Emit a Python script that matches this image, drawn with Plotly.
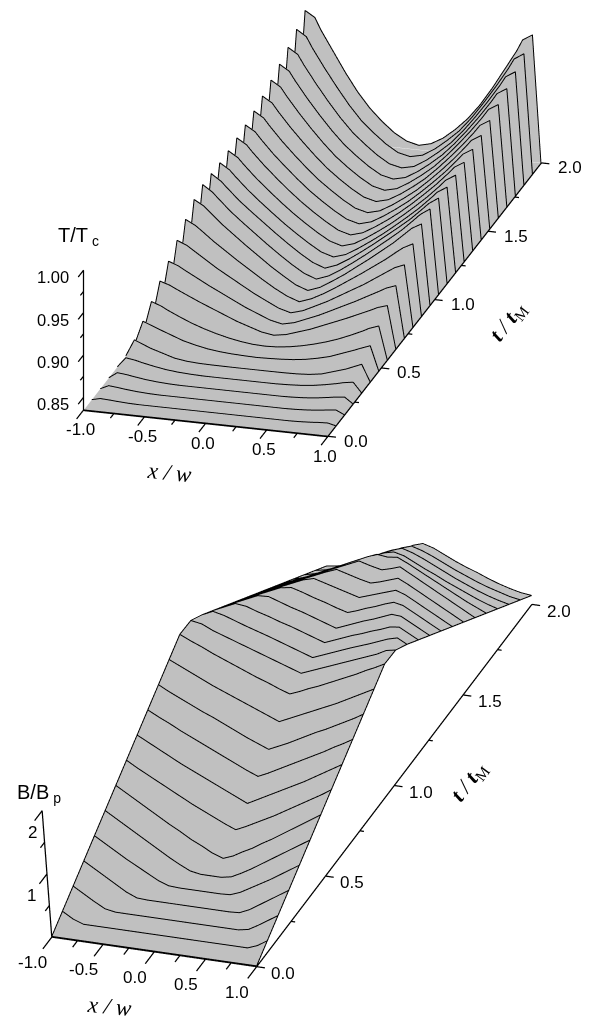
import numpy as np
import plotly.graph_objects as go

# ---------- data ----------
times = [round(0.08 * k, 2) for k in range(26)]
T_bath = 0.835
# half profile nodes (profiles are symmetric in x)
x_half_T = [0, .1, .2, .3, .4, .5, .6, .7, .8, .85, .93, 1]
# temperature rise above the bath, in thousandths of T/Tc
T_rise = [
 [0,0,0,0,0,0,0,0,0,0,0,0],
 [0,0,0,0,0,0,0,.4,1.2,1.8,2.4,0],
 [0,0,0,0,0,0,.4,1.2,2.6,3.5,4.7,0],
 [0,0,0,0,0,.4,1.2,2.6,4.7,5.9,7.1,0],
 [0,0,0,.1,.6,1.4,2.9,5.3,8.2,10,11.8,0],
 [0,0,.1,.2,.5,1.4,3.5,7.9,12.3,15.3,20,0],
 [.8,1.2,1.8,2.9,4.7,7.6,11.2,16.5,21.8,24.7,29,0],
 [1.2,1.8,3.6,6.3,9.8,14,19,25,31.5,35.3,39.4,0],
 [1.2,3.5,8.2,12.9,18.8,24.7,30.6,37,43.5,47,50.6,0],
 [1.5,4.7,10.6,16.5,23.5,30.6,37.6,45.3,52.9,57,61.2,0],
 [1.8,5.9,12.9,20,28.2,36.5,44.7,54.1,63.5,68.2,72.9,0],
 [2,7.1,14.7,23.5,32.9,42.3,52.3,62.3,73.5,78.8,84.7,0],
 [2.4,7.6,16.5,25.9,36.5,47,58.2,69.4,82.3,88.8,95.3,0],
 [2.9,8.2,17,27,37.6,48.8,60,71.7,85.3,92.3,100,0],
 [2.9,8.2,17,27,37.6,48.8,60,71.7,85.3,92.3,100,0],
 [3.2,7.6,16.2,25.9,36.2,47.5,59.2,71.5,85.4,92.8,100,0],
 [3.3,7.6,16,25.6,35.9,47.3,59.5,72.2,86.4,94.1,101.2,0],
 [3.4,7.5,15.9,25.5,36,47.7,60.4,73.7,88.4,96.5,103.5,0],
 [3.6,7.5,15.8,25.5,36,48.2,61.3,75.1,90.6,99,105.9,0],
 [3.9,7.6,15.9,25.8,36.5,49.2,62.9,77.5,93.6,102.4,109.4,0],
 [4.1,7.8,16.1,26.1,37.2,50.6,65.2,80.7,97.7,107.1,114.1,0],
 [4.5,8,16.5,26.7,38.2,52.3,67.9,84.7,102.8,113,120,0],
 [4.8,8.2,16.7,27.4,39.3,54.1,70.7,88.6,108,118.8,125.9,0],
 [5.1,8.3,17.1,28.2,40.6,56.2,74.1,93.4,114.1,125.7,132.9,0],
 [5.5,8.7,17.5,29,41.9,58.7,78.2,98.9,121.1,133.8,141.2,0],
 [5.9,9.4,17.6,29.4,43.5,61.2,82.4,105.9,129.4,143.5,150.6,0],
]
x_half_B = [0, .1, .2, .3, .4, .5, .6, .7, .8, .9, 1]
# x position of the central kink of each field profile
B_centre = [.02, .02, .02, .02, .02, .02, .03, .05, .06, .06, .06, .06, .06,
            .065, .07, .08, .085, .09, .095, .10, .10, .05, 0, -.03, -.05, -.05]
B_half = [
 [0,0,0,0,0,0,0,0,0,0,0],
 [.01,.01,.01,.01,.01,.01,.01,.01,.01,.07,.17],
 [.02,.02,.02,.02,.02,.02,.02,.05,.14,.24,.34],
 [.03,.03,.03,.03,.03,.04,.11,.21,.31,.41,.51],
 [.04,.04,.04,.05,.11,.2,.29,.38,.48,.58,.68],
 [.05,.05,.08,.16,.25,.35,.45,.55,.65,.75,.85],
 [.1,.16,.25,.33,.43,.52,.62,.72,.82,.92,1.02],
 [.33,.4,.48,.56,.64,.73,.82,.91,1.0,1.09,1.19],
 [.52,.6,.68,.76,.84,.92,1.0,1.09,1.18,1.27,1.36],
 [.72,.79,.87,.95,1.03,1.11,1.19,1.27,1.36,1.44,1.53],
 [.92,.99,1.06,1.14,1.22,1.3,1.37,1.45,1.53,1.61,1.7],
 [1.13,1.2,1.27,1.34,1.41,1.48,1.55,1.63,1.71,1.79,1.87],
 [1.34,1.4,1.47,1.53,1.6,1.67,1.74,1.81,1.89,1.96,2.04],
 [1.44,1.5,1.56,1.62,1.68,1.74,1.8,1.86,1.92,2.0,2.03],
 [1.46,1.52,1.58,1.64,1.7,1.755,1.81,1.87,1.93,1.97,1.89],
 [1.47,1.53,1.59,1.65,1.70,1.76,1.81,1.87,1.89,1.81,1.73],
 [1.47,1.53,1.59,1.65,1.7,1.76,1.82,1.81,1.73,1.65,1.57],
 [1.49,1.54,1.6,1.65,1.71,1.76,1.73,1.65,1.57,1.49,1.41],
 [1.5,1.55,1.6,1.65,1.7,1.65,1.57,1.49,1.41,1.33,1.25],
 [1.5,1.54,1.59,1.64,1.57,1.49,1.41,1.33,1.25,1.17,1.09],
 [1.48,1.52,1.57,1.49,1.41,1.33,1.25,1.17,1.09,1.01,.93],
 [1.44,1.46,1.39,1.31,1.23,1.15,1.07,.99,.91,.84,.77],
 [1.28,1.24,1.16,1.08,1.01,.93,.86,.79,.72,.66,.61],
 [1.1,1.05,.98,.9,.82,.74,.67,.6,.54,.49,.45],
 [.9,.85,.78,.7,.62,.55,.48,.42,.37,.32,.29],
 [.71,.66,.58,.5,.43,.37,.3,.24,.19,.15,.13],
]
x_major = [-1.0, -0.5, 0.0, 0.5, 1.0]
x_minor = [-0.75, -0.25, 0.25, 0.75]
t_major = [0.0, 0.5, 1.0, 1.5, 2.0]
t_minor = [0.25, 0.75, 1.25, 1.75]
T_major = [0.85, 0.90, 0.95, 1.00]
T_minor = [0.875, 0.925, 0.975]
B_major = [0, 1, 2]
B_minor = [0.5, 1.5]

GRAY = "#c0c0c0"
SANS = "Liberation Sans"
SERIF = "Liberation Serif"


def mirror(half):
    return [-v for v in half[:0:-1]] + list(half)


def mirror_row(row):
    return list(row[:0:-1]) + list(row)


def shifted_nodes(c):
    """Full x nodes of a profile whose central node lies at x = c."""
    left = [-(1 - v) * (1 + c) + (1 + c) - 1 - v * (1 + c) + v * (1 + c) for v in []]
    left = [c - v * (1 + c) for v in x_half_B[:0:-1]]
    right = [c + v * (1 - c) for v in x_half_B]
    return left + right


x_T = mirror(x_half_T)
T_profiles = [[T_bath + v / 1000 for v in mirror_row(r)] for r in T_rise]
B_profiles = [mirror_row(r) for r in B_half]
x_B_rows = [shifted_nodes(c) for c in B_centre]
t_B_rows = [[t] * len(x_B_rows[0]) for t in times]

flat = dict(ambient=1, diffuse=0, specular=0, fresnel=0, roughness=1)
cs = [[0, GRAY], [1, GRAY]]


def polyline(segments):
    xs, ys, zs = [], [], []
    for seg in segments:
        for p in seg:
            xs.append(p[0]); ys.append(p[1]); zs.append(p[2])
        xs.append(None); ys.append(None); zs.append(None)
    return xs, ys, zs


def lines(segments, scene, width=2.0):
    xs, ys, zs = polyline(segments)
    return go.Scatter3d(x=xs, y=ys, z=zs, mode="lines", scene=scene, showlegend=False,
                        hoverinfo="skip", line=dict(color="black", width=width))


fig = go.Figure()

# ---- top chart: one filled wall per time on a grey floor
fig.add_trace(go.Surface(x=[-1, 1], y=[0, 2], z=[[T_bath - 0.0004] * 2] * 2, scene="scene",
                         colorscale=cs, showscale=False, lighting=flat, hoverinfo="skip"))
for t, prof in zip(times, T_profiles):
    fig.add_trace(go.Surface(x=x_T, y=[t, t + 1e-4], z=[[T_bath] * len(x_T), prof], scene="scene",
                             colorscale=cs, showscale=False, lighting=flat, hoverinfo="skip"))
NUDGE_T = 0.004
fig.add_trace(lines([[(x, t - NUDGE_T, z) for x, z in zip(x_T, prof)]
                     for t, prof in zip(times, T_profiles)], "scene"))
z0 = T_bath
axes = [[(-1, 0, z0), (1, 0, z0)], [(1, 0, z0), (1, 2, z0)], [(-1, 0, z0), (-1, 0, 1.0)]]
axes += [[(v, 0, z0), (v, -0.065, z0)] for v in x_major] + [[(v, 0, z0), (v, -0.035, z0)] for v in x_minor]
axes += [[(1, v, z0), (1.065, v, z0)] for v in t_major] + [[(1, v, z0), (1.035, v, z0)] for v in t_minor]
axes += [[(-1, 0, v), (-1, -0.05, v)] for v in T_major] + [[(-1, 0, v), (-1, -0.03, v)] for v in T_minor]
fig.add_trace(lines(axes, "scene", 2.5))

# ---- bottom chart: a surface with one black profile per time
fig.add_trace(go.Surface(x=x_B_rows, y=t_B_rows, z=B_profiles, scene="scene2",
                         colorscale=cs, showscale=False, lighting=flat, hoverinfo="skip"))
NUDGE_B = 0.012
fig.add_trace(lines([[(x, t, z + NUDGE_B) for x, z in zip(xs, prof)]
                     for t, xs, prof in zip(times, x_B_rows, B_profiles)]
                    + [[(-1, t, p[0] + NUDGE_B) for t, p in zip(times, B_profiles)],
                       [(1, t, p[-1] + NUDGE_B) for t, p in zip(times, B_profiles)]], "scene2"))
LEAN = -0.0275  # the drawn B axis leans a little further left than the surface
lean = lambda b: -1 + LEAN * b
axes2 = [[(-1, 0, 0), (1, 0, 0)], [(1, 0, 0), (1, 2, 0)], [(-1, 0, 0), (lean(2), 0, 2)]]
axes2 += [[(v, 0, 0), (v, -0.065, 0)] for v in x_major] + [[(v, 0, 0), (v, -0.035, 0)] for v in x_minor]
axes2 += [[(1, v, 0), (1.08, v, 0)] for v in t_major] + [[(1, v, 0), (1.04, v, 0)] for v in t_minor]
axes2 += [[(lean(v), 0, v), (lean(v), -0.055, v)] for v in B_major[1:]]
axes2 += [[(lean(v), 0, v), (lean(v), -0.03, v)] for v in B_minor]
fig.add_trace(lines(axes2, "scene2", 2.5))


def note(x, y, z, text, size=17, fam=SANS, **kw):
    return dict(x=x, y=y, z=z, text=text, showarrow=False, font=dict(family=fam, size=size, color="black"), **kw)


T_TITLE = "<b><i>t</i></b> <i>/</i> <b><i>t</i></b><sub>M</sub>"
X_TITLE = "<i>x / w</i>"
ann1 = [note(v, -0.146, z0, f"{v:.1f}", xshift=13) for v in x_major]
ann1 += [note(1.23, v, z0, f"{v:.1f}", yshift=-2) for v in t_major]
ann1 += [note(-1, 0, v, f"{v:.2f}", size=16.5, xanchor="right", xshift=-13, yshift=-7) for v in T_major]
ann1 += [note(-1, 0, 1.0, "T/T<sub> c</sub>", size=20, xshift=-5, yshift=34),
         note(0, -0.34, z0, X_TITLE, size=23, fam=SERIF, xshift=0, yshift=-3, textangle=6),
         note(1.69, 0.90, z0, T_TITLE, size=22, fam=SERIF, textangle=-52)]
ann2 = [note(v, -0.14, 0, f"{v:.1f}") for v in x_major]
ann2 += [note(1.26, v, 0, f"{v:.1f}", yshift=-3) for v in t_major]
ann2 += [note(-1, 0, v, f"{v:d}", xshift=-21 + (3 * v), yshift=-21) for v in B_major[1:]]
ann2 += [note(-1, 0, 2, "B/B<sub> p</sub>", size=20, xshift=-9, yshift=18),
         note(0, -0.30, 0, X_TITLE, size=23, fam=SERIF, xshift=-3, textangle=6),
         note(1.64, 1.07, 0, T_TITLE, size=22, fam=SERIF, textangle=-53)]


def hidden_axis(rng):
    return dict(range=rng, visible=False, showgrid=False, zeroline=False, showline=False,
                showticklabels=False, showspikes=False, showbackground=False, title="")


def camera(u, v, S, shift_right, shift_up, r, up):
    u, v = np.array(u), np.array(v)
    w = np.cross(u, v)
    c = -(shift_right / S) * u - (shift_up / S) * v
    e = c + r * w
    return dict(center=dict(x=c[0], y=c[1], z=c[2]), eye=dict(x=e[0], y=e[1], z=e[2]),
                up=dict(x=up[0], y=up[1], z=up[2]), projection=dict(type="orthographic"))


SPLIT = 510 / 1019
fig.update_layout(
    width=592, height=1019, margin=dict(l=0, r=0, t=0, b=0), paper_bgcolor="white", showlegend=False,
    scene=dict(domain=dict(x=[0, 1], y=[SPLIT, 1]),
               xaxis=hidden_axis([-1.8, 1.8]), yaxis=hidden_axis([-0.35, 2.35]), zaxis=hidden_axis([0.825, 1.01]),
               aspectmode="manual", aspectratio=dict(x=1.8, y=4.069, z=0.6635),
               camera=camera([.9605, .2782, 0], [-.1032, .3564, .9286], 254.8, 16.5, 38, 2.417, (0, 0, 1)),
               annotations=ann1),
    scene2=dict(domain=dict(x=[0, 1], y=[0, SPLIT]),
                xaxis=hidden_axis([-1.8, 1.8]), yaxis=hidden_axis([-0.35, 2.35]), zaxis=hidden_axis([-0.05, 2.15]),
                aspectmode="manual", aspectratio=dict(x=1.5386, y=4.2847, z=0.6131),
                camera=camera([.93996, .34007, -.02817], [-.13546, .44765, .88389], 254.8, -6.25, 59.15, 2.417,
                              (-.13546, .44765, .88389)),
                annotations=ann2),
)
fig.write_html("out.html", post_script="document.body.style.margin='0';", config=dict(displayModeBar=False))
